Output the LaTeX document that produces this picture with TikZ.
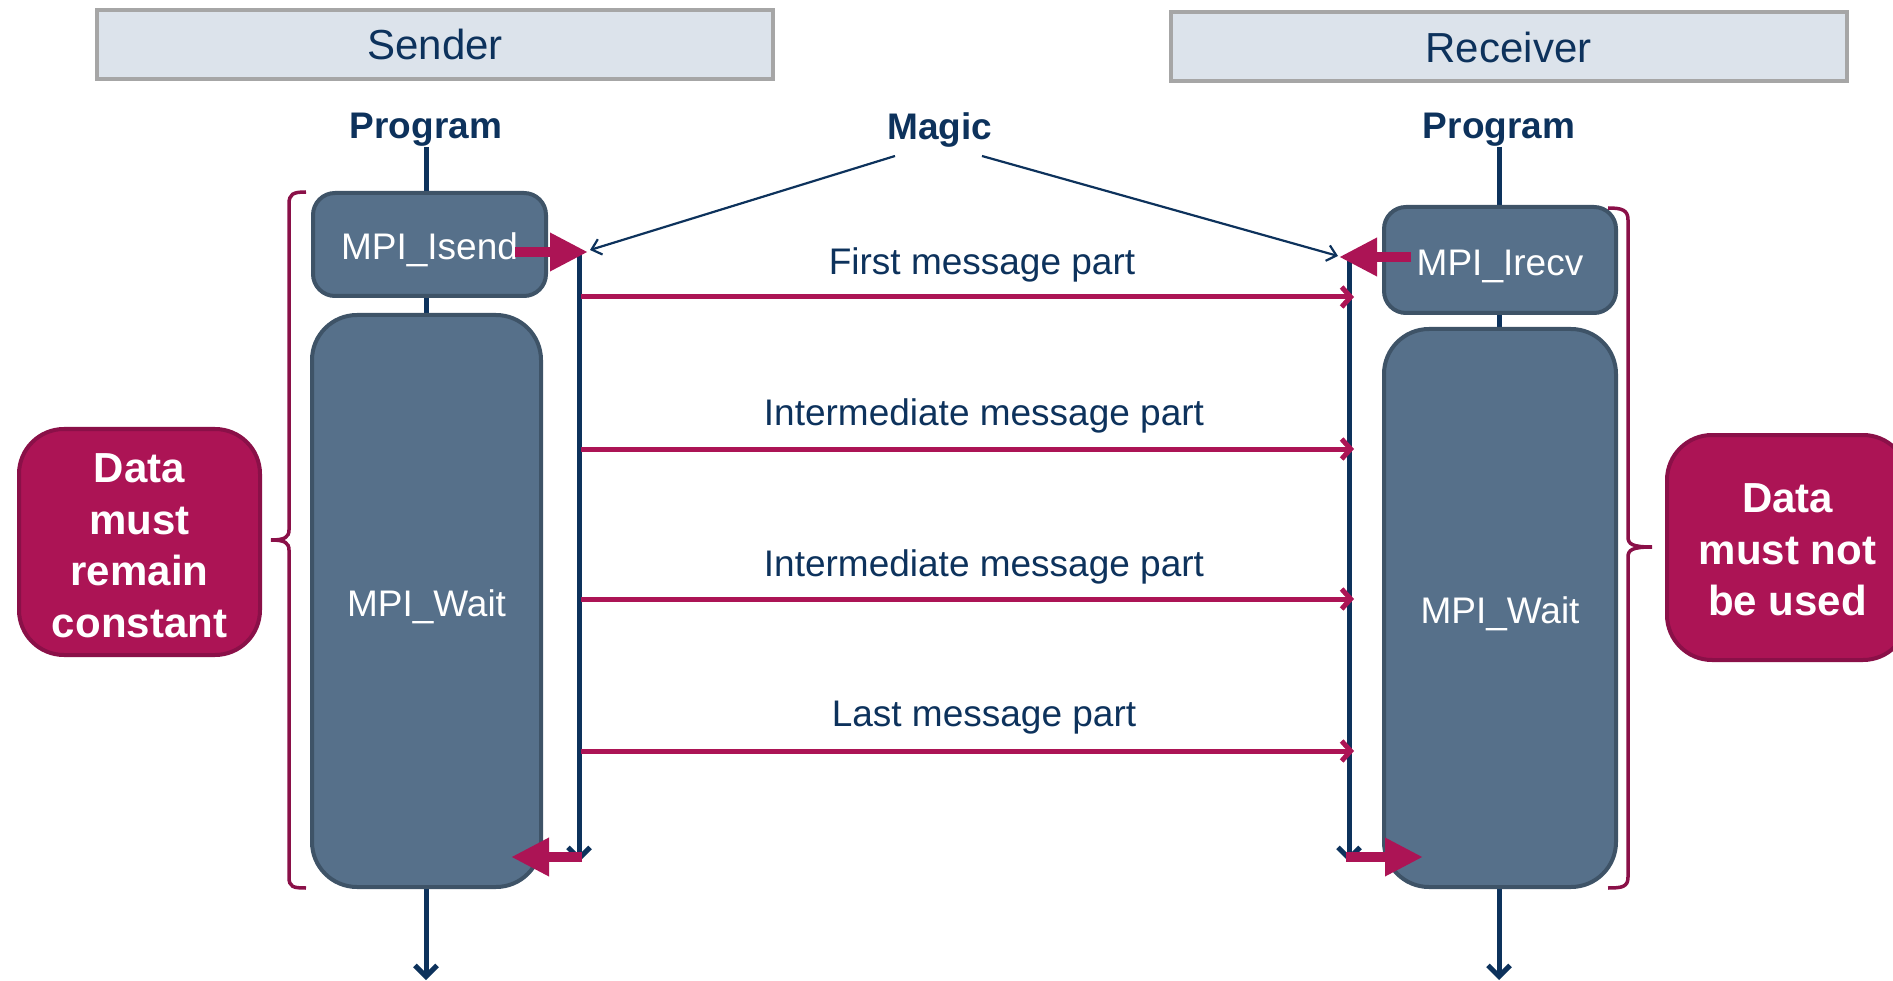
\documentclass[tikz,border=0pt]{standalone}
\usepackage{fontspec}
\setmainfont{Liberation Sans}
\usetikzlibrary{arrows.meta}
\definecolor{navy}{HTML}{0D325C}
\definecolor{boxfill}{HTML}{56708A}
\definecolor{boxborder}{HTML}{3E5367}
\definecolor{mag}{HTML}{AC1455}
\definecolor{magdark}{HTML}{8A1048}
\definecolor{hdrfill}{HTML}{DCE3EB}
\definecolor{hdrborder}{HTML}{A6A6A6}
\begin{document}
\begin{tikzpicture}[x=1pt,y=-1pt,
  hdr/.style={draw=hdrborder, fill=hdrfill, line width=4pt, minimum width=676pt, minimum height=69pt, inner sep=0pt, font=\fontsize{42}{50}\selectfont, text=navy},
  lbl/.style={inner sep=0pt, font=\fontsize{37}{44}\selectfont\bfseries, text=navy},
  msglbl/.style={inner sep=0pt, font=\fontsize{37}{44}\selectfont, text=navy},
  mpibox/.style={draw=boxborder, fill=boxfill, line width=4pt, inner sep=0pt, text height=30.5pt, text depth=0pt, font=\fontsize{37}{44}\selectfont, text=white},
  callout/.style={draw=magdark, fill=mag, line width=4pt, inner sep=0pt, rounded corners=45pt},
  calltext/.style={inner sep=0pt, align=center, font=\fontsize{42}{51.5}\selectfont\bfseries, text=white},
  progline/.style={draw=navy, line width=5pt, -{Straight Barb[length=11pt,width=22pt]}},
  timeline/.style={draw=navy, line width=5pt, -{Straight Barb[length=11pt,width=22pt]}},
  msg/.style={draw=mag, line width=5pt, -{Straight Barb[length=9pt,width=20pt]}},
  magicline/.style={draw=navy, line width=2.2pt, -{Straight Barb[length=9pt,width=16pt]}},
  bigarrow/.style={draw=mag, fill=mag, line width=10pt, -{Triangle[length=38pt,width=36pt]}},
  bracepath/.style={draw=magdark, line width=3.5pt}
]
\useasboundingbox (0,0) rectangle (1893,981);

% headers
\node[hdr] (sender) at (435,44.5) {Sender};
\node[hdr] (receiver) at (1508.5,47) {Receiver};

% labels
\node[lbl] (progL) at (426,130) {Program};
\node[lbl] (progR) at (1499,130) {Program};
\node[lbl] (magic) at (940,130) {Magic};

% program lines
\coordinate (pl0) at (426,147);
\coordinate (pl1) at (426,980);
\coordinate (pr0) at (1499,147);
\coordinate (pr1) at (1499,980);
\draw[progline] (pl0) -- (pl1);
\draw[progline] (pr0) -- (pr1);

% boxes
\node[mpibox, rounded corners=22pt, minimum width=233pt, minimum height=103pt] (isend) at (429.5,244.5) {MPI\_Isend};
\node[mpibox, rounded corners=45pt, minimum width=229pt, minimum height=572pt] (waitL) at (426.5,601) {MPI\_Wait};
\node[mpibox, rounded corners=22pt, minimum width=232pt, minimum height=106pt] (irecv) at (1500,260) {MPI\_Irecv};
\node[mpibox, rounded corners=45pt, minimum width=232pt, minimum height=558pt] (waitR) at (1500,608) {MPI\_Wait};

% time lines
\coordinate (tl0) at (579,252);
\coordinate (tl1) at (579,862);
\coordinate (tr0) at (1349,256);
\coordinate (tr1) at (1349,862);
\draw[timeline] (tl0) -- (tl1);
\draw[timeline] (tr0) -- (tr1);

% message arrows
\coordinate (m1a) at (581,297);   \coordinate (m1b) at (1354,297);
\coordinate (m2a) at (581,449);   \coordinate (m2b) at (1354,449);
\coordinate (m3a) at (581,599);   \coordinate (m3b) at (1354,599);
\coordinate (m4a) at (581,751);   \coordinate (m4b) at (1354,751);
\draw[msg] (m1a) -- (m1b);
\draw[msg] (m2a) -- (m2b);
\draw[msg] (m3a) -- (m3b);
\draw[msg] (m4a) -- (m4b);
\node[msglbl] (l1) at (982,265) {First message part};
\node[msglbl] (l2) at (984,416) {Intermediate message part};
\node[msglbl] (l3) at (984,567) {Intermediate message part};
\node[msglbl] (l4) at (984,718) {Last message part};

% magic connectors
\coordinate (mg1) at (895,156);
\coordinate (mg2) at (982,156);
\coordinate (isendtip) at (590,250);
\coordinate (irecvtip) at (1338,256);
\draw[magicline] (mg1) -- (isendtip);
\draw[magicline] (mg2) -- (irecvtip);

% big arrows
\coordinate (ia0) at (515,252);  \coordinate (ia1) at (588,252);
\coordinate (ra0) at (1411,257); \coordinate (ra1) at (1339,257);
\coordinate (wa0) at (582,857);  \coordinate (wa1) at (511,857);
\coordinate (wb0) at (1346,857); \coordinate (wb1) at (1423,857);
\draw[bigarrow] (ia0) -- (ia1);
\draw[bigarrow] (ra0) -- (ra1);
\draw[bigarrow] (wa0) -- (wa1);
\draw[bigarrow] (wb0) -- (wb1);

% braces
\draw[bracepath] (306,192) .. controls (293,192) and (289,194) .. (289,204) -- (289,530)
  .. controls (289,537) and (285,540) .. (271,540)
  .. controls (285,540) and (289,543) .. (289,550) -- (289,877)
  .. controls (289,887) and (293,888) .. (306,888);
\draw[bracepath] (1608,208) .. controls (1622,208) and (1628,210) .. (1628,220) -- (1628,537)
  .. controls (1628,544) and (1632,547) .. (1652,547)
  .. controls (1632,547) and (1628,550) .. (1628,557) -- (1628,877)
  .. controls (1628,887) and (1622,888) .. (1608,888);

% callouts
\node[callout, minimum width=241pt, minimum height=226pt] (cL) at (139.5,542) {};
\node[calltext] (cLt) at (139.5,546) {Data\\must\\remain\\constant};
\node[callout, minimum width=241pt, minimum height=225pt] (cR) at (1787.5,547.5) {};
\node[calltext] (cRt) at (1787.5,550) {Data\\must not\\be used};
\end{tikzpicture}
\end{document}
